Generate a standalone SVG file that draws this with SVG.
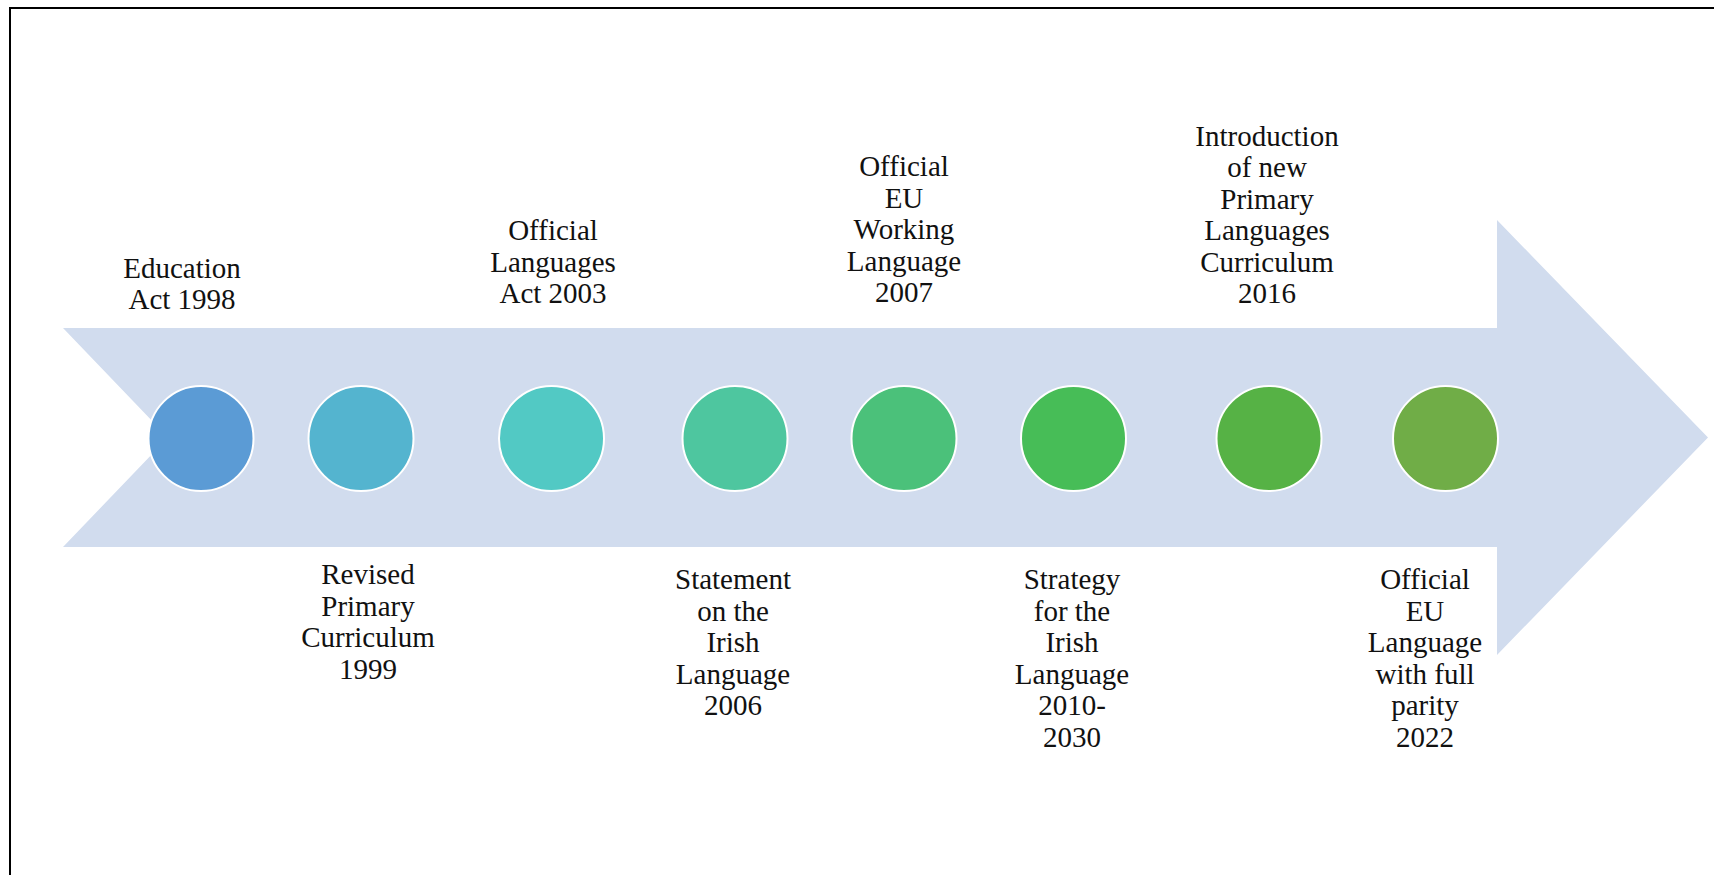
<svg xmlns="http://www.w3.org/2000/svg" width="1714" height="875" viewBox="0 0 1714 875">
  <style>
    .lbl { font-family: "Liberation Serif", "Times New Roman", serif; font-size: 29px; fill: #111; text-anchor: middle; }
    .dot { stroke: #ffffff; stroke-width: 2; }
    .frame { stroke: #000; stroke-width: 2; fill: none; }
  </style>
  <rect x="0" y="0" width="1714" height="875" fill="#ffffff"/>
  <g id="frame">
    <line class="frame" x1="9" y1="8" x2="1714" y2="8"/>
    <line class="frame" x1="10" y1="7" x2="10" y2="875"/>
  </g>
  <g id="timeline-arrow">
    <polygon points="63,328 1497,328 1497,220 1708,437.5 1497,655 1497,547 63,547 168,437.5" fill="#D1DCEE"/>
  </g>
  <g id="connectors"></g>
  <g id="node-1998">
    <circle class="dot" cx="201" cy="438.5" r="52.5" fill="#5B9BD5"/>
    <text class="lbl" x="182" y="278"><tspan x="182">Education</tspan><tspan x="182" dy="31">Act 1998</tspan></text>
  </g>
  <g id="node-1999">
    <circle class="dot" cx="361" cy="438.5" r="52.5" fill="#54B4CF"/>
    <text class="lbl" x="368" y="584"><tspan x="368">Revised</tspan><tspan x="368" dy="31.5">Primary</tspan><tspan x="368" dy="31.5">Curriculum</tspan><tspan x="368" dy="31.5">1999</tspan></text>
  </g>
  <g id="node-2003">
    <circle class="dot" cx="551.5" cy="438.5" r="52.5" fill="#52C9C4"/>
    <text class="lbl" x="553" y="240"><tspan x="553">Official</tspan><tspan x="553" dy="31.5">Languages</tspan><tspan x="553" dy="31.5">Act 2003</tspan></text>
  </g>
  <g id="node-2006">
    <circle class="dot" cx="735" cy="438.5" r="52.5" fill="#4EC69F"/>
    <text class="lbl" x="733" y="589"><tspan x="733">Statement</tspan><tspan x="733" dy="31.5">on the</tspan><tspan x="733" dy="31.5">Irish</tspan><tspan x="733" dy="31.5">Language</tspan><tspan x="733" dy="31.5">2006</tspan></text>
  </g>
  <g id="node-2007">
    <circle class="dot" cx="904" cy="438.5" r="52.5" fill="#4BC17A"/>
    <text class="lbl" x="904" y="176"><tspan x="904">Official</tspan><tspan x="904" dy="31.5">EU</tspan><tspan x="904" dy="31.5">Working</tspan><tspan x="904" dy="31.5">Language</tspan><tspan x="904" dy="31.5">2007</tspan></text>
  </g>
  <g id="node-2010">
    <circle class="dot" cx="1073.5" cy="438.5" r="52.5" fill="#47BD57"/>
    <text class="lbl" x="1072" y="589"><tspan x="1072">Strategy</tspan><tspan x="1072" dy="31.5">for the</tspan><tspan x="1072" dy="31.5">Irish</tspan><tspan x="1072" dy="31.5">Language</tspan><tspan x="1072" dy="31.5">2010-</tspan><tspan x="1072" dy="31.5">2030</tspan></text>
  </g>
  <g id="node-2016">
    <circle class="dot" cx="1269" cy="438.5" r="52.5" fill="#56B245"/>
    <text class="lbl" x="1267" y="145.5"><tspan x="1267">Introduction</tspan><tspan x="1267" dy="31.5">of new</tspan><tspan x="1267" dy="31.5">Primary</tspan><tspan x="1267" dy="31.5">Languages</tspan><tspan x="1267" dy="31.5">Curriculum</tspan><tspan x="1267" dy="31.5">2016</tspan></text>
  </g>
  <g id="node-2022">
    <circle class="dot" cx="1445.5" cy="438.5" r="52.5" fill="#70AD47"/>
    <text class="lbl" x="1425" y="589"><tspan x="1425">Official</tspan><tspan x="1425" dy="31.5">EU</tspan><tspan x="1425" dy="31.5">Language</tspan><tspan x="1425" dy="31.5">with full</tspan><tspan x="1425" dy="31.5">parity</tspan><tspan x="1425" dy="31.5">2022</tspan></text>
  </g>
</svg>
